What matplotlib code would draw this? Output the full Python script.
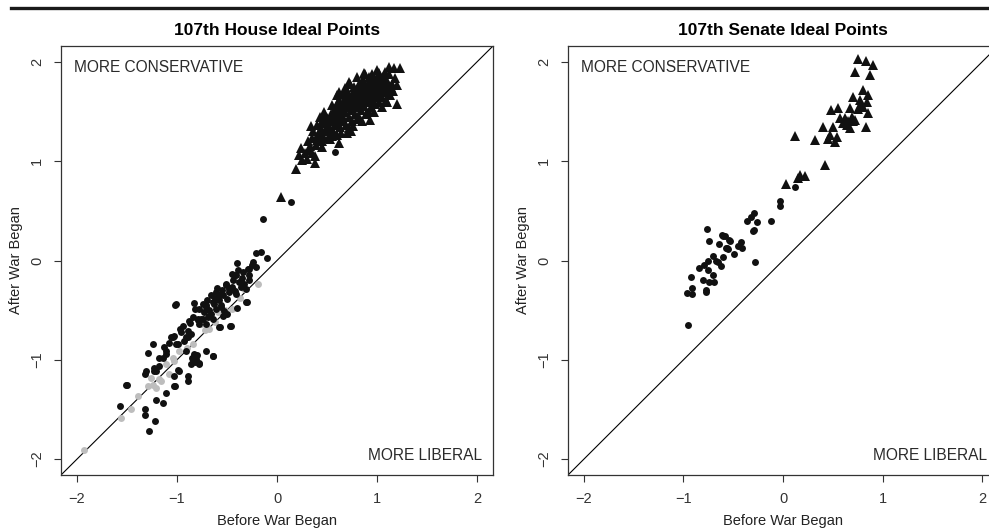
import matplotlib
matplotlib.use("Agg")
import matplotlib.pyplot as plt
from matplotlib.lines import Line2D

plt.rcParams['font.family'] = ['Liberation Sans', 'DejaVu Sans']

# House Republicans (triangles): before / after
house_rep_x = [0.04, 0.19, 0.24, 0.32, 0.38, 0.25, 0.38, 0.28, 0.30, 0.35, 0.22, 0.33,
               0.34, 0.40, 0.47, 0.55, 0.60, 0.45, 0.40, 0.35, 0.62, 0.70, 0.72, 0.93,
               0.73, 0.80, 0.87, 1.02, 1.12, 1.17, 1.23, 1.20, 1.20,
               0.42, 0.44, 0.46, 0.48, 0.50, 0.50, 0.52, 0.53, 0.54, 0.55, 0.56, 0.57,
               0.58, 0.58, 0.60, 0.60, 0.61, 0.62, 0.63, 0.64, 0.65, 0.66, 0.66, 0.67,
               0.68, 0.69, 0.70, 0.70, 0.71, 0.72, 0.73, 0.74, 0.75, 0.75, 0.76, 0.77,
               0.78, 0.78, 0.79, 0.80, 0.81, 0.82, 0.82, 0.83, 0.84, 0.85, 0.86, 0.86,
               0.87, 0.88, 0.89, 0.90, 0.90, 0.91, 0.92, 0.93, 0.94, 0.94, 0.95, 0.96,
               0.97, 0.98, 0.98, 0.99, 1.00, 1.01, 1.02, 1.03, 1.04, 1.05, 1.06, 1.07,
               1.08, 1.09, 1.10, 1.11, 1.12, 1.13, 1.15, 1.16, 1.18, 1.05, 0.85, 0.97,
               0.64, 0.72, 0.68, 0.60, 0.88, 1.00, 0.76, 0.80, 1.10, 0.55, 0.47, 0.43,
               0.62, 0.74, 0.92, 1.08, 0.95, 0.83,
               0.52, 0.57, 0.63, 0.69, 0.74, 0.79, 0.84, 0.89, 0.94, 0.99, 1.04, 1.09,
               0.66, 0.71, 0.77, 0.82, 0.87, 0.92, 0.97, 1.02, 0.59, 1.14,
               0.36, 0.41, 0.44, 0.49, 0.51, 0.45, 0.39, 0.53, 0.56, 0.48, 0.43, 0.31]
house_rep_y = [0.64, 0.92, 1.13, 1.11, 1.05, 1.01, 0.98, 1.08, 1.02, 1.08, 1.06, 1.15,
               1.35, 1.36, 1.50, 1.57, 1.58, 1.14, 1.21, 1.23, 1.18, 1.28, 1.33, 1.41,
               1.78, 1.85, 1.89, 1.89, 1.95, 1.94, 1.94, 1.77, 1.58,
               1.28, 1.32, 1.25, 1.38, 1.30, 1.44, 1.35, 1.22, 1.48, 1.40, 1.30, 1.52,
               1.45, 1.36, 1.26, 1.50, 1.42, 1.62, 1.34, 1.55, 1.47, 1.40, 1.68, 1.58,
               1.50, 1.36, 1.63, 1.72, 1.55, 1.45, 1.60, 1.52, 1.67, 1.40, 1.57, 1.75,
               1.48, 1.63, 1.70, 1.55, 1.60, 1.45, 1.78, 1.66, 1.52, 1.72, 1.62, 1.82,
               1.56, 1.68, 1.48, 1.76, 1.60, 1.65, 1.85, 1.70, 1.55, 1.62, 1.78, 1.67,
               1.72, 1.58, 1.82, 1.65, 1.75, 1.68, 1.60, 1.80, 1.72, 1.65, 1.85, 1.76,
               1.70, 1.62, 1.80, 1.73, 1.88, 1.67, 1.78, 1.71, 1.84, 1.55, 1.40, 1.50,
               1.28, 1.80, 1.74, 1.67, 1.88, 1.92, 1.35, 1.42, 1.60, 1.25, 1.42, 1.20,
               1.70, 1.30, 1.50, 1.90, 1.88, 1.58,
               1.40, 1.46, 1.52, 1.56, 1.62, 1.66, 1.69, 1.72, 1.74, 1.78, 1.80, 1.83,
               1.60, 1.66, 1.68, 1.73, 1.76, 1.80, 1.84, 1.86, 1.38, 1.75,
               1.30, 1.27, 1.38, 1.33, 1.23, 1.20, 1.16, 1.31, 1.44, 1.47, 1.45, 1.20]

# House Democrats (black circles)
house_dem_x = [0.14, 0.58, -0.14, -0.21, -0.16, -0.10, -0.40, -0.39, -0.28, -0.21,
               -0.45, -0.41, -0.51, -0.45, -0.36, -0.28, -0.33, -0.61, -0.58, -0.66,
               -0.48, -0.50, -0.30, -0.40, -0.47, -0.57, -0.83, -0.82, -1.02, -0.71,
               -0.63, -0.61, -0.66, -0.69, -0.64, -0.74, -0.79, -0.84, -0.78, -0.71,
               -0.58, -0.46, -0.54, -0.94, -0.89, -0.96, -0.86, -1.03, -1.06, -1.08,
               -1.01, -0.93, -0.89, -0.71, -0.64, -0.83, -0.81, -0.78, -0.84, -0.86,
               -1.24, -1.29, -1.18, -1.11, -1.11, -1.31, -1.21, -1.18, -1.32, -0.98,
               -1.03, -0.89, -0.89, -1.03, -1.11, -1.21, -1.14, -1.50, -1.57, -1.32,
               -1.32, -1.22, -1.28, -0.43, -0.29, -0.28, -0.51, -0.38, -0.48, -0.54,
               -0.41, -0.36, -0.31, -0.58, -0.64, -0.71, -0.56, -0.53, -0.74, -0.78,
               -0.73, -0.68, -0.76, -0.88, -1.04, -1.14, -0.99, -0.91, -1.23, -1.01,
               -0.31, -0.50, -0.64, -0.78, -0.83, -0.91, -1.51, -1.02, -1.23, -0.99,
               -0.85, -0.80, -0.82, -0.79, -0.60, -0.25, -0.35, -0.44, -0.55, -0.70,
               -0.34, -0.24, -0.47, -0.62, -0.68, -0.87, -0.97, -1.13, -0.42, -0.56]
house_dem_y = [0.59, 1.09, 0.42, 0.08, 0.09, 0.03, -0.03, -0.10, -0.09, -0.07,
               -0.14, -0.15, -0.25, -0.27, -0.22, -0.20, -0.24, -0.32, -0.35, -0.35,
               -0.32, -0.39, -0.42, -0.48, -0.66, -0.67, -0.43, -0.49, -0.45, -0.47,
               -0.44, -0.49, -0.54, -0.57, -0.59, -0.59, -0.59, -0.57, -0.64, -0.64,
               -0.67, -0.66, -0.56, -0.66, -0.71, -0.72, -0.74, -0.76, -0.77, -0.83,
               -0.84, -0.81, -0.77, -0.91, -0.96, -0.94, -0.99, -1.04, -1.01, -1.04,
               -0.84, -0.93, -0.98, -0.94, -0.91, -1.11, -1.11, -1.06, -1.14, -1.11,
               -1.16, -1.16, -1.21, -1.26, -1.33, -1.40, -1.43, -1.25, -1.47, -1.50,
               -1.56, -1.62, -1.72, -0.15, -0.09, -0.15, -0.24, -0.22, -0.29, -0.35,
               -0.34, -0.27, -0.29, -0.40, -0.42, -0.45, -0.45, -0.51, -0.44, -0.49,
               -0.52, -0.56, -0.59, -0.61, -0.77, -0.98, -0.84, -0.77, -1.08, -0.44,
               -0.42, -0.54, -0.96, -1.03, -0.96, -0.91, -1.25, -1.26, -1.11, -1.10,
               -0.98, -0.95, -1.02, -0.60, -0.28, -0.05, -0.18, -0.20, -0.30, -0.40,
               -0.12, -0.02, -0.28, -0.38, -0.50, -0.63, -0.69, -0.87, -0.31, -0.47]

# House members drawn in grey
house_grey_x = [-0.19, -0.33, -0.43, -0.45, -0.59, -0.68, -0.76, -0.84, -0.98, -1.04,
                -1.11, -1.18, -1.24, -1.26, -1.21, -1.29, -1.39, -1.46, -1.56, -1.93,
                -1.16, -1.08, -1.03, -0.52, -0.62, -0.90, -0.37, -0.72]
house_grey_y = [-0.24, -0.29, -0.30, -0.49, -0.52, -0.69, -0.64, -0.84, -0.91, -0.98,
                -1.04, -1.19, -1.25, -1.18, -1.28, -1.26, -1.36, -1.50, -1.59, -1.91,
                -1.21, -1.14, -1.01, -0.50, -0.62, -0.88, -0.38, -0.70]

# Senate Republicans (triangles)
senate_rep_x = [0.75, 0.83, 0.90, 0.72, 0.87, 0.80, 0.70, 0.85, 0.77, 0.84,
                0.80, 0.75, 0.85, 0.67, 0.48, 0.55, 0.57, 0.62, 0.65, 0.69,
                0.70, 0.64, 0.67, 0.72, 0.83, 0.40, 0.50, 0.47, 0.54, 0.52,
                0.45, 0.32, 0.12, 0.42, 0.17, 0.22, 0.15, 0.03, 0.78, 0.60]
senate_rep_y = [2.03, 2.01, 1.97, 1.90, 1.87, 1.72, 1.65, 1.67, 1.62, 1.60,
                1.55, 1.53, 1.49, 1.54, 1.52, 1.54, 1.43, 1.43, 1.40, 1.45,
                1.40, 1.36, 1.33, 1.41, 1.34, 1.34, 1.34, 1.26, 1.24, 1.19,
                1.22, 1.21, 1.25, 0.96, 0.86, 0.85, 0.83, 0.77, 1.58, 1.38]

# Senate Democrats (circles)
senate_dem_x = [0.12, -0.03, -0.03, -0.12, -0.29, -0.32, -0.36, -0.26, -0.29, -0.76,
                -0.74, -0.64, -0.61, -0.58, -0.54, -0.56, -0.45, -0.42, -0.41, -0.60,
                -0.53, -0.57, -0.55, -0.30, -0.70, -0.60, -0.49, -0.75, -0.67, -0.65,
                -0.62, -0.84, -0.79, -0.75, -0.70, -0.80, -0.74, -0.69, -0.77, -0.77,
                -0.92, -0.91, -0.96, -0.91, -0.95, -0.28]
senate_dem_y = [0.74, 0.60, 0.55, 0.40, 0.48, 0.44, 0.40, 0.39, 0.31, 0.32,
                0.20, 0.17, 0.26, 0.25, 0.21, 0.13, 0.15, 0.19, 0.13, 0.25,
                0.20, 0.13, 0.12, 0.30, 0.05, 0.04, 0.07, 0.00, 0.00, -0.02,
                -0.06, -0.08, -0.05, -0.10, -0.15, -0.20, -0.22, -0.22, -0.30, -0.32,
                -0.17, -0.28, -0.33, -0.34, -0.65, -0.02]

ticks = [-2, -1, 0, 1, 2]
tick_labels = ['\u22122', '\u22121', '0', '1', '2']
lim = (-2.16, 2.16)

fig = plt.figure(figsize=(9.89, 5.31), dpi=100)
ax1 = fig.add_axes([61 / 989, 56 / 531, 432 / 989, 429 / 531])
ax2 = fig.add_axes([568 / 989, 56 / 531, 430 / 989, 429 / 531])

# thick rule across the top
fig.add_artist(Line2D([11 / 989, 1.0], [523 / 531, 523 / 531], color='#1a1a1a', lw=2.4))


def setup(ax, title):
    ax.set_xlim(lim)
    ax.set_ylim(lim)
    ax.plot([-3, 3], [-3, 3], color='black', lw=0.8, zorder=1)
    ax.set_xticks(ticks)
    ax.set_yticks(ticks)
    ax.set_xticklabels(tick_labels)
    ax.set_yticklabels(tick_labels, rotation=90, va='center')
    ax.tick_params(direction='out', length=5, width=0.8, labelsize=10.5, pad=7, colors='#333333')
    for s in ax.spines.values():
        s.set_linewidth(0.9)
        s.set_color('#333333')
    ax.set_xlabel('Before War Began', fontsize=10.5, labelpad=6, color='#222222')
    ax.set_ylabel('After War Began', fontsize=10.5, labelpad=5, color='#222222')
    ax.set_title(title, fontsize=12.5, fontweight='bold', pad=8)
    ax.text(-2.03, 1.94, 'MORE CONSERVATIVE', fontsize=11.2, ha='left', va='center', color='#2a2a2a')
    ax.text(2.05, -1.96, 'MORE LIBERAL', fontsize=11.2, ha='right', va='center', color='#2a2a2a')


setup(ax1, '107th House Ideal Points')
setup(ax2, '107th Senate Ideal Points')

ax1.plot(house_grey_x, house_grey_y, 'o', color='#bdbdbd', ms=5, mew=0, zorder=2)
ax1.plot(house_dem_x, house_dem_y, 'o', color='#111111', ms=5, mew=0, zorder=3)
ax1.plot(house_rep_x, house_rep_y, '^', color='#111111', ms=7.5, mew=0, zorder=4)

ax2.plot(senate_dem_x, senate_dem_y, 'o', color='#111111', ms=5, mew=0, zorder=3)
ax2.plot(senate_rep_x, senate_rep_y, '^', color='#111111', ms=7.5, mew=0, zorder=4)

fig.savefig('out.png', dpi=100)
